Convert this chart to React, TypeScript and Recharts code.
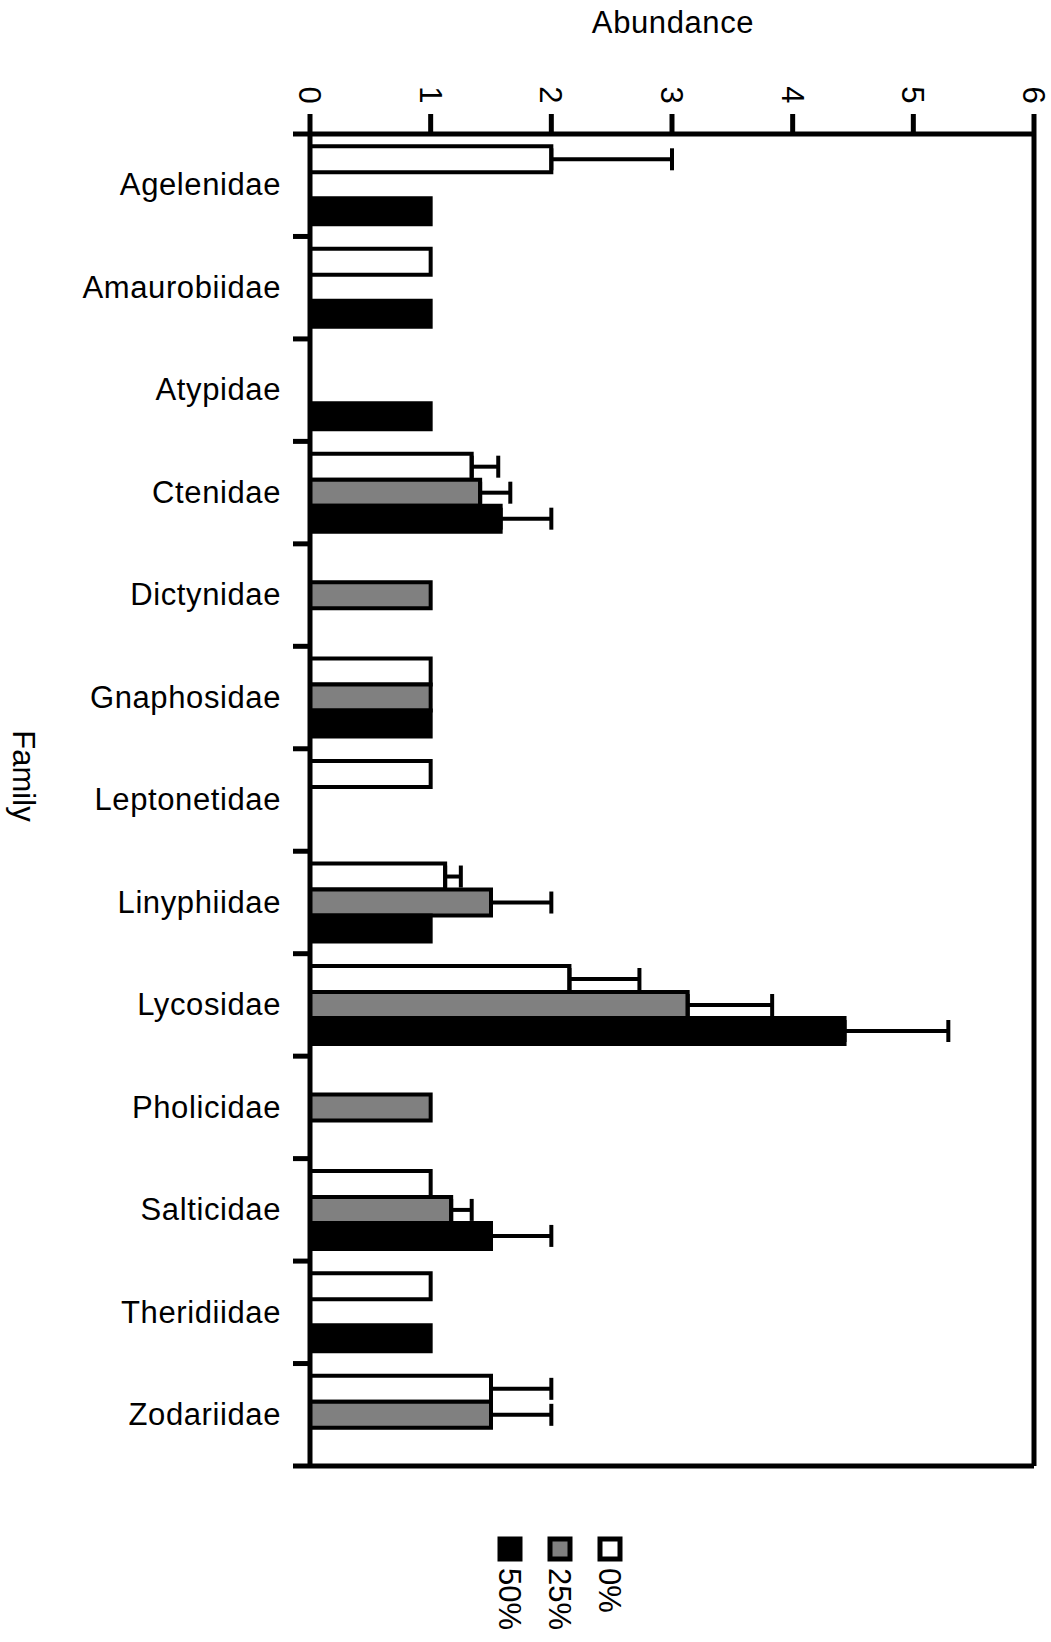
import React from 'react';
import { BarChart, Bar, XAxis, YAxis, ErrorBar, ReferenceLine } from 'recharts';

// Spider families (category axis, top to bottom)
const families = [
  'Agelenidae',
  'Amaurobiidae',
  'Atypidae',
  'Ctenidae',
  'Dictynidae',
  'Gnaphosidae',
  'Leptonetidae',
  'Linyphiidae',
  'Lycosidae',
  'Pholicidae',
  'Salticidae',
  'Theridiidae',
  'Zodariidae',
];

// Mean abundance per treatment (null = not recorded)
const abundance0 = [2, 1, null, 1.34, null, 1, 1, 1.12, 2.15, null, 1, 1, 1.5];
const abundance25 = [null, null, null, 1.41, 1, 1, null, 1.5, 3.13, 1, 1.17, null, 1.5];
const abundance50 = [1, 1, 1, 1.58, null, 1, null, 1, 4.43, null, 1.5, 1, null];

// Upper error for each mean (null = no error bar)
const error0 = [1, null, null, 0.22, null, null, null, 0.13, 0.58, null, null, null, 0.5];
const error25 = [null, null, null, 0.25, null, null, null, 0.5, 0.7, null, 0.17, null, 0.5];
const error50 = [null, null, null, 0.42, null, null, null, null, 0.86, null, 0.5, null, null];

const abundanceTicks = [0, 1, 2, 3, 4, 5, 6];

const legendItems = [
  { label: '50%', fill: '#000000' },
  { label: '25%', fill: '#808080' },
  { label: '0%', fill: '#ffffff' },
];

const FONT = '"Liberation Sans", Arial, Helvetica, sans-serif';
const FONT_SIZE = 31;

const W = 1051;
const H = 1642;
const MARGIN = { top: 0, right: 17, bottom: 174, left: 0 };
const X_AXIS_HEIGHT = 134;
const BOTTOM_AXIS_HEIGHT = 2;
const Y_AXIS_WIDTH = 310;
const Y_TICK_SIZE = 17;
const Y_TICK_MARGIN = 12;

const plotHeight = H - MARGIN.top - MARGIN.bottom - X_AXIS_HEIGHT - BOTTOM_AXIS_HEIGHT;
const fallbackHalfBand = plotHeight / families.length / 2;

// one-sided (upper) error as [minus, plus]
const upper = (e: number | null) => (e == null ? null : [0, e]);

const rows = families.map((family, i) => ({
  family,
  a0: abundance0[i],
  a25: abundance25[i],
  a50: abundance50[i],
  e0: upper(error0[i]),
  e25: upper(error25[i]),
  e50: upper(error50[i]),
}));

const renderXTick = (props: any) => {
  const { x, y, payload } = props;
  const cy = y - 9;
  return (
    <text
      x={x}
      y={cy}
      dy="0.35em"
      textAnchor="middle"
      transform={`rotate(90, ${x}, ${cy})`}
      fontFamily={FONT}
      fontSize={FONT_SIZE}
      fill="#000"
    >
      {payload.value}
    </text>
  );
};

const renderYTick = (props: any) => {
  const { x, y, payload, index } = props;
  const half = typeof payload.offset === 'number' && payload.offset > 0 ? payload.offset : fallbackHalfBand;
  const axisX = x + Y_TICK_MARGIN + Y_TICK_SIZE;
  const topEdge = payload.coordinate - half;
  const bottomEdge = payload.coordinate + half;
  return (
    <g>
      <line x1={axisX - Y_TICK_SIZE} x2={axisX} y1={topEdge} y2={topEdge} stroke="#000" strokeWidth={5} />
      {index === families.length - 1 && (
        <line x1={axisX - Y_TICK_SIZE} x2={axisX} y1={bottomEdge} y2={bottomEdge} stroke="#000" strokeWidth={5} />
      )}
      <text
        x={x}
        y={y}
        dy="0.33em"
        textAnchor="end"
        fontFamily={FONT}
        fontSize={FONT_SIZE}
        letterSpacing={0.6}
        fill="#000"
      >
        {payload.value}
      </text>
    </g>
  );
};

export default function App() {
  return (
    <div style={{ position: 'absolute', left: 0, top: 0, width: W, height: H, background: '#fff' }}>
      <BarChart
        width={W}
        height={H}
        data={rows}
        layout="vertical"
        margin={MARGIN}
        barCategoryGap="12%"
        barGap={0}
      >
        <XAxis
          xAxisId={0}
          type="number"
          orientation="top"
          domain={[0, 6]}
          ticks={abundanceTicks}
          interval={0}
          height={X_AXIS_HEIGHT}
          axisLine={{ stroke: '#000', strokeWidth: 5 }}
          tickLine={{ stroke: '#000', strokeWidth: 5 }}
          tickSize={20}
          tickMargin={10}
          tick={renderXTick}
          allowDataOverflow
        />
        <XAxis
          xAxisId="bottom"
          type="number"
          orientation="bottom"
          domain={[0, 6]}
          height={BOTTOM_AXIS_HEIGHT}
          tick={false}
          tickLine={false}
          axisLine={{ stroke: '#000', strokeWidth: 5 }}
          allowDataOverflow
        />
        <YAxis
          type="category"
          dataKey="family"
          width={Y_AXIS_WIDTH}
          interval={0}
          tickLine={false}
          tickSize={Y_TICK_SIZE}
          tickMargin={Y_TICK_MARGIN}
          axisLine={{ stroke: '#000', strokeWidth: 5 }}
          tick={renderYTick}
        />
        <ReferenceLine x={6} stroke="#000" strokeWidth={5} />
        <Bar dataKey="a0" fill="#ffffff" stroke="#000" strokeWidth={4} isAnimationActive={false}>
          <ErrorBar dataKey="e0" direction="x" width={11} stroke="#000" strokeWidth={4} isAnimationActive={false} />
        </Bar>
        <Bar dataKey="a25" fill="#808080" stroke="#000" strokeWidth={4} isAnimationActive={false}>
          <ErrorBar dataKey="e25" direction="x" width={11} stroke="#000" strokeWidth={4} isAnimationActive={false} />
        </Bar>
        <Bar dataKey="a50" fill="#000000" stroke="#000" strokeWidth={4} isAnimationActive={false}>
          <ErrorBar dataKey="e50" direction="x" width={11} stroke="#000" strokeWidth={4} isAnimationActive={false} />
        </Bar>
      </BarChart>

      <svg
        width={W}
        height={H}
        style={{ position: 'absolute', left: 0, top: 0, pointerEvents: 'none' }}
      >
        <text x={673} y={33} textAnchor="middle" fontFamily={FONT} fontSize={FONT_SIZE} letterSpacing={0.6} fill="#000">
          Abundance
        </text>
        <text
          x={24}
          y={776}
          dy="0.35em"
          textAnchor="middle"
          transform="rotate(90, 24, 776)"
          fontFamily={FONT}
          fontSize={FONT_SIZE}
          fill="#000"
        >
          Family
        </text>
        {legendItems.map((item, i) => {
          const cx = 510 + i * 50;
          return (
            <g key={item.label}>
              <rect x={cx - 10} y={1539} width={20} height={20} fill={item.fill} stroke="#000" strokeWidth={5} />
              <text
                x={cx}
                y={1568}
                dy="0.35em"
                textAnchor="start"
                transform={`rotate(90, ${cx}, 1568)`}
                fontFamily={FONT}
                fontSize={FONT_SIZE}
                fill="#000"
              >
                {item.label}
              </text>
            </g>
          );
        })}
      </svg>
    </div>
  );
}
